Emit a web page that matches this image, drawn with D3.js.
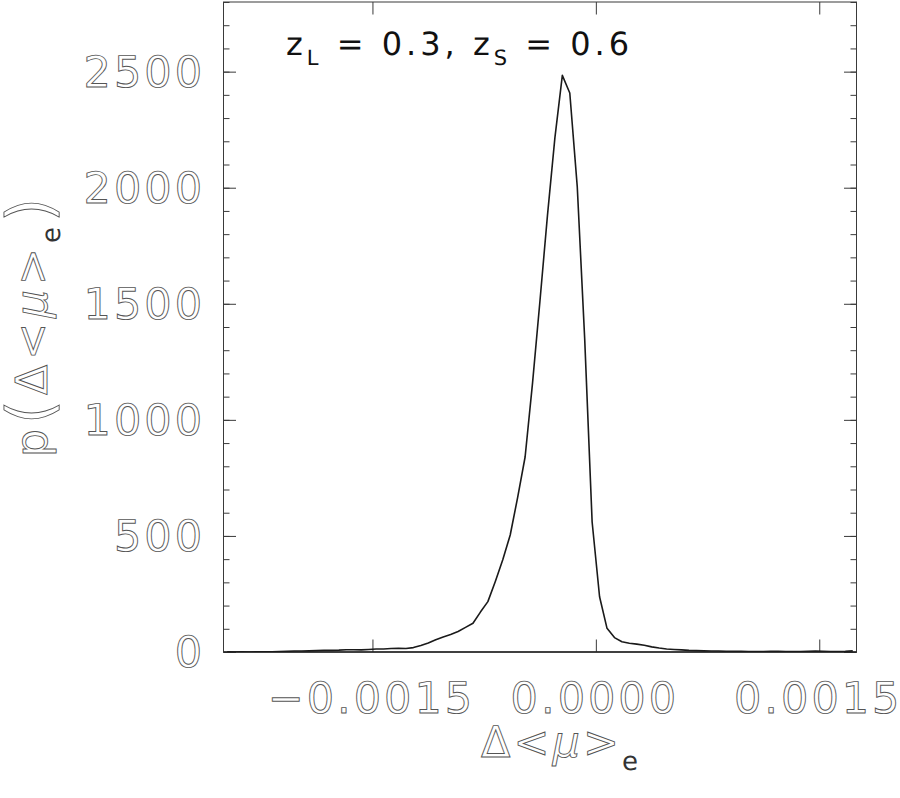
<!DOCTYPE html>
<html>
<head>
<meta charset="utf-8">
<script src="https://cdn.jsdelivr.net/npm/d3@7"></script>
<style>
  html, body { margin: 0; padding: 0; background: #fff; }
  svg { display: block; }
  text { text-rendering: geometricPrecision; }
</style>
</head>
<body>
<script>
// ---- data ----
const deltaMu = [
  -0.002475, -0.002425, -0.002375, -0.002325, -0.002275, -0.002225, -0.002175, -0.002125,
  -0.002075, -0.002025, -0.001975, -0.001925, -0.001875, -0.001825, -0.001775, -0.001725,
  -0.001675, -0.001625, -0.001575, -0.001525, -0.001475, -0.001425, -0.001375, -0.001325,
  -0.001275, -0.001225, -0.001175, -0.001125, -0.001075, -0.001025, -0.000975, -0.000925,
  -0.000875, -0.000825, -0.000775, -0.000725, -0.000675, -0.000625, -0.000575, -0.000525,
  -0.000475, -0.000425, -0.000375, -0.000325, -0.000275, -0.000225, -0.000175, -0.000125,
  -0.000075, -0.000025, 0.000025, 0.000075, 0.000125, 0.000175, 0.000225, 0.000275,
  0.000325, 0.000375, 0.000425, 0.000475, 0.000525, 0.000575, 0.000625, 0.000675,
  0.000725, 0.000775, 0.000825, 0.000875, 0.000925, 0.000975, 0.001025, 0.001075,
  0.001125, 0.001175, 0.001225, 0.001275, 0.001325, 0.001375, 0.001425, 0.001475,
  0.001525, 0.001575, 0.001625, 0.001675, 0.001725
];
const density = [
  1, 0, 1, 0, 1, 1, 1, 2,
  3, 4, 4, 5, 6, 7, 7, 8,
  10, 10, 9, 11, 13, 13, 15, 16,
  15, 19, 28, 39, 53, 65, 75, 88,
  106, 124, 172, 217, 304, 397, 504, 666,
  840, 1159, 1514, 1880, 2215, 2484, 2408, 2006,
  1350, 560, 238, 102, 62, 44, 38, 34,
  29, 22, 17, 13, 11, 9, 7, 6,
  5, 4, 4, 3, 3, 3, 2, 2,
  2, 3, 3, 2, 2, 2, 3, 4,
  3, 2, 2, 3, 5
];
const xDomain = [-0.0025, 0.00175];
const yDomain = [0, 2800];
const xMajorTicks = [-0.0015, 0.0, 0.0015];
const yMajorTicks = [0, 500, 1000, 1500, 2000, 2500];
const yMinorTicks = [0,100,200,300,400,500,600,700,800,900,1000,1100,1200,1300,1400,
                     1500,1600,1700,1800,1900,2000,2100,2200,2300,2400,2500,2600,2700,2800];
const titleParts = [
  {t: "z", sub: false}, {t: "L", sub: true}, {t: " = 0.3, z", sub: false},
  {t: "S", sub: true}, {t: " = 0.6", sub: false}
];

// ---- layout ----
const W = 900, H = 798;
const L = 223.5, R = 856.5, T = 2, B = 652;
const FONT = "'DejaVu Sans', sans-serif";

const svg = d3.select("body").append("svg").attr("width", W).attr("height", H);

const x = d3.scaleLinear().domain(xDomain).range([L, R]);
const y = d3.scaleLinear().domain(yDomain).range([B, T]);

svg.append("clipPath").attr("id", "plotclip")
  .append("rect").attr("x", L).attr("y", T).attr("width", R - L).attr("height", B - T);

const axisColor = "#3a3a3a";

function styleAxis(g) {
  g.select(".domain").remove();
  g.selectAll(".tick line").attr("stroke", axisColor).attr("stroke-width", 1);
  g.selectAll(".tick text").remove();
}

// y ticks left (inward)
svg.append("g").attr("transform", `translate(${L},0)`)
  .call(d3.axisLeft(y).tickValues(yMinorTicks).tickSize(-6).tickFormat(""))
  .call(styleAxis);
svg.append("g").attr("transform", `translate(${L},0)`)
  .call(d3.axisLeft(y).tickValues(yMajorTicks).tickSize(-12.5).tickFormat(""))
  .call(styleAxis);
// y ticks right (inward)
svg.append("g").attr("transform", `translate(${R},0)`)
  .call(d3.axisRight(y).tickValues(yMinorTicks).tickSize(-6).tickFormat(""))
  .call(styleAxis);
svg.append("g").attr("transform", `translate(${R},0)`)
  .call(d3.axisRight(y).tickValues(yMajorTicks).tickSize(-12.5).tickFormat(""))
  .call(styleAxis);
// x ticks bottom / top (inward)
svg.append("g").attr("transform", `translate(0,${B})`)
  .call(d3.axisBottom(x).tickValues(xMajorTicks).tickSize(-12.5).tickFormat(""))
  .call(styleAxis);
svg.append("g").attr("transform", `translate(0,${T})`)
  .call(d3.axisTop(x).tickValues(xMajorTicks).tickSize(-12.5).tickFormat(""))
  .call(styleAxis);

// frame
svg.append("rect").attr("x", L).attr("y", T).attr("width", R - L).attr("height", B - T)
  .attr("fill", "none").attr("stroke", axisColor).attr("stroke-width", 1);
svg.append("line").attr("x1", L).attr("x2", R).attr("y1", B).attr("y2", B)
  .attr("stroke", "#222").attr("stroke-width", 1.6);

// curve
const line = d3.line().x((d, i) => x(deltaMu[i])).y(d => y(d));
svg.append("path")
  .datum(density)
  .attr("clip-path", "url(#plotclip)")
  .attr("fill", "none")
  .attr("stroke", "#1a1a1a")
  .attr("stroke-width", 1.6)
  .attr("stroke-linejoin", "round")
  .attr("d", line);

// hollow text style
function hollow(sel) {
  return sel.attr("fill", "#fff").attr("stroke", "#555").attr("stroke-width", 0.9)
    .attr("font-family", FONT);
}

// y tick labels
svg.append("g").selectAll("text").data(yMajorTicks).join("text")
  .attr("x", 205)
  .attr("y", d => y(d))
  .attr("dy", "0.36em")
  .attr("text-anchor", "end")
  .attr("font-size", 43)
  .attr("letter-spacing", 3)
  .text(d => d3.format("d")(d))
  .call(hollow);

// x tick labels
const fmtX = d3.format(".4f");
svg.append("g").selectAll("text").data(xMajorTicks).join("text")
  .attr("x", d => x(d) - 1)
  .attr("y", 713)
  .attr("text-anchor", "middle")
  .attr("font-size", 43)
  .attr("letter-spacing", 3)
  .text(d => fmtX(d))
  .call(hollow);

// x axis title: Δ<μ>_e
const xt = svg.append("text")
  .attr("x", 561).attr("y", 757)
  .attr("text-anchor", "middle")
  .attr("font-size", 43)
  .attr("letter-spacing", 3)
  .call(hollow);
xt.append("tspan").text("Δ<");
xt.append("tspan").attr("font-style", "italic").text("μ");
xt.append("tspan").text(">");
xt.append("tspan").attr("font-size", 26).attr("dy", 13).attr("fill", "#333").attr("stroke", "none").text("e");

// y axis title: p(Δ<μ>_e)
const yt = svg.append("text")
  .attr("transform", "translate(47,325) rotate(-90)")
  .attr("text-anchor", "middle")
  .attr("font-size", 44)
  .attr("letter-spacing", 5)
  .call(hollow);
yt.append("tspan").text("p");
yt.append("tspan").attr("font-size", 62).attr("dy", 4).text("(");
yt.append("tspan").attr("dy", -4).text("Δ<");
yt.append("tspan").attr("font-style", "italic").text("μ");
yt.append("tspan").text(">");
yt.append("tspan").attr("font-size", 26).attr("dy", 13).attr("fill", "#333").attr("stroke", "none").text("e");
yt.append("tspan").attr("font-size", 62).attr("dy", -9).text(")");

// in-plot title
const tt = svg.append("text")
  .attr("x", 286).attr("y", 55)
  .attr("font-family", FONT)
  .attr("font-size", 32)
  .attr("fill", "#111")
  .attr("letter-spacing", 4);
titleParts.forEach((p, i) => {
  const ts = tt.append("tspan").text(p.t.replace(/ /g, "\u00a0"));
  if (p.sub) ts.attr("font-size", 21).attr("dy", 10);
  else if (i > 0 && titleParts[i - 1].sub) ts.attr("dy", -10);
});
</script>
</body>
</html>
